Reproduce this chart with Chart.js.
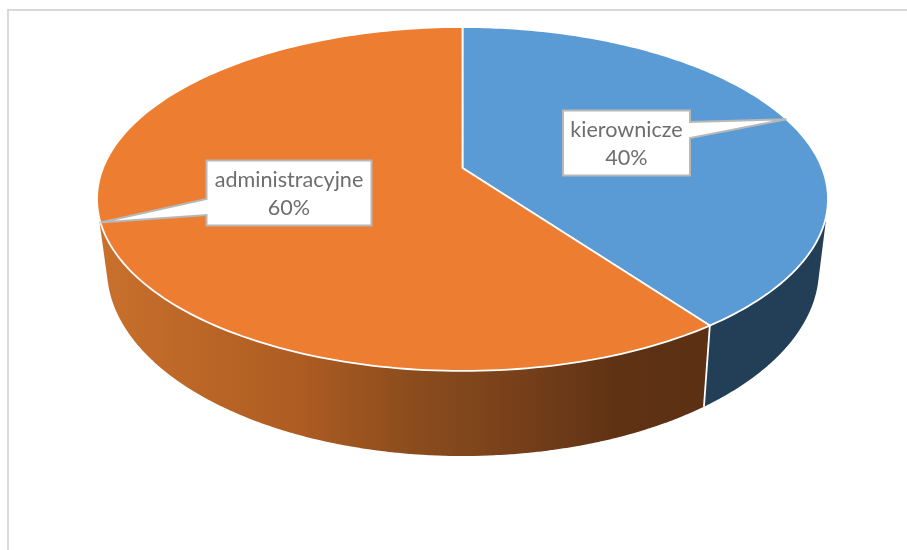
<!DOCTYPE html>
<html>
<head>
<meta charset="utf-8">
<style>
    html, body { margin: 0; padding: 0; background: #fff; overflow: hidden; }
    #frame { position: absolute; left: 7px; top: 9px; width: 900px; height: 541px; box-sizing: border-box;
             border-left: 2.5px solid #d9d9d9; border-top: 2.5px solid #d9d9d9; }
    canvas { position: absolute; left: 0; top: 0; }
</style>
<script src="https://cdn.jsdelivr.net/npm/chart.js@4/dist/chart.umd.min.js"></script>
</head>
<body>
<div id="frame"></div>
<canvas id="pie3d" width="907" height="550"></canvas>
<script>
const categories = ['kierownicze', 'administracyjne'];
const shares = [40, 60];
const topColors = ['#5b9bd5', '#ec7d31'];
const wallColors = ['#233f57', null]; // orange wall is a gradient, see below

// perspective projection of the pie's top and bottom discs on to the page
const topView = { cx: 462.5, cy: 168, rx: 359.5, ry: 166.4, p: 0.18 };
const bottomView = { cx: 463, cy: 235.4, rx: 350.2, ry: 180.9, p: 0.18 };
// label boxes, matched by index to categories
const boxes = [
    { x: 563, y: 110.5, w: 127, h: 65, baseY: [122, 138] },
    { x: 206.5, y: 160.5, w: 165, h: 65, baseY: [199, 215] }
];

function rim(angle, view) {
    const u = Math.cos(angle), v = Math.sin(angle);
    const w = 1 - view.p * v;
    return { x: view.cx + view.rx * u / w, y: view.cy + view.ry * v / w };
}

function traceRim(ctx, a0, a1, view, first) {
    const steps = 180;
    for (let i = 0; i <= steps; i++) {
        const p = rim(a0 + (a1 - a0) * i / steps, view);
        if (i === 0 && first) ctx.moveTo(p.x, p.y);
        else ctx.lineTo(p.x, p.y);
    }
}

// signed area of a polygon, used to keep all wall quads wound the same way
function area(p) {
    let sum = 0;
    p.forEach((q, i) => {
        const n = p[(i + 1) % p.length];
        sum += q.x * n.y - n.x * q.y;
    });
    return sum;
}

// wall is one path of thin overlapping quads, so its outline follows the
// side tangents and no seams show between them
function fillWall(ctx, a0, a1, color) {
    const steps = 240;
    ctx.beginPath();
    for (let i = 0; i < steps; i++) {
        const s = a0 + (a1 - a0) * i / steps;
        const e = a0 + (a1 - a0) * Math.min(i + 1.5, steps) / steps;
        const p = [rim(s, topView), rim(e, topView), rim(e, bottomView), rim(s, bottomView)];
        if (area(p) < 0) p.reverse();
        ctx.moveTo(p[0].x, p[0].y);
        p.slice(1).forEach(q => ctx.lineTo(q.x, q.y));
        ctx.closePath();
    }
    ctx.fillStyle = color;
    ctx.fill();
}

function orangeWall(ctx) {
    const g = ctx.createLinearGradient(100, 0, 710, 0);
    g.addColorStop(0, '#c9702c');
    g.addColorStop(0.33, '#ad5c22');
    g.addColorStop(0.5, '#8d4d1d');
    g.addColorStop(0.66, '#7a421b');
    g.addColorStop(0.85, '#5f3214');
    g.addColorStop(1, '#5b3013');
    return g;
}

const pie3dPlugin = {
    id: 'pie3d',
    // the flat arcs are replaced by the projected ones
    beforeDatasetDraw() { return false; },
    afterDatasetsDraw(chart) {
        const ctx = chart.ctx;
        const arcs = chart.getDatasetMeta(0).data;

        ctx.save();
        arcs.forEach((arc, i) => {
            fillWall(ctx, arc.startAngle, arc.endAngle, wallColors[i] || orangeWall(ctx));
        });

        // white edge between the two walls
        const split = arcs[0].endAngle;
        const a = rim(split, topView), b = rim(split, bottomView);
        ctx.strokeStyle = '#fff';
        ctx.lineWidth = 1.8;
        ctx.beginPath();
        ctx.moveTo(a.x, a.y);
        ctx.lineTo(b.x, b.y);
        ctx.stroke();

        // top face
        arcs.forEach(arc => {
            ctx.beginPath();
            ctx.moveTo(topView.cx, topView.cy);
            traceRim(ctx, arc.startAngle, arc.endAngle, topView, false);
            ctx.closePath();
            ctx.fillStyle = arc.options.backgroundColor;
            ctx.fill();
            ctx.stroke();
        });

        // callouts
        arcs.forEach((arc, i) => {
            const box = boxes[i];
            const tip = rim((arc.startAngle + arc.endAngle) / 2, topView);
            const side = tip.x > box.x ? box.x + box.w : box.x;
            ctx.beginPath();
            ctx.moveTo(box.x, box.y);
            ctx.lineTo(box.x + box.w, box.y);
            if (side !== box.x) {
                ctx.lineTo(side, box.baseY[0]);
                ctx.lineTo(tip.x, tip.y);
                ctx.lineTo(side, box.baseY[1]);
            }
            ctx.lineTo(box.x + box.w, box.y + box.h);
            ctx.lineTo(box.x, box.y + box.h);
            if (side === box.x) {
                ctx.lineTo(side, box.baseY[1]);
                ctx.lineTo(tip.x, tip.y);
                ctx.lineTo(side, box.baseY[0]);
            }
            ctx.closePath();
            ctx.fillStyle = '#fff';
            ctx.fill();
            ctx.strokeStyle = '#b8b8b8';
            ctx.lineWidth = 2;
            ctx.stroke();

            const total = shares.reduce((s, v) => s + v, 0);
            ctx.fillStyle = '#6e6e6e';
            ctx.font = '21.6px Lato';
            ctx.textAlign = 'center';
            ctx.textBaseline = 'middle';
            const mid = box.x + box.w / 2;
            ctx.fillText(categories[i], mid, box.y + 20);
            ctx.fillText(Math.round(shares[i] / total * 100) + '%', mid, box.y + 48);
        });
        ctx.restore();
    }
};

new Chart(document.getElementById('pie3d'), {
    type: 'pie',
    data: {
        labels: categories,
        datasets: [{
            data: shares,
            backgroundColor: topColors,
            borderColor: '#fff',
            borderWidth: 1.5
        }]
    },
    options: {
        responsive: false,
        animation: false,
        plugins: {
            legend: { display: false },
            tooltip: { enabled: false }
        }
    },
    plugins: [pie3dPlugin]
});
</script>
</body>
</html>
